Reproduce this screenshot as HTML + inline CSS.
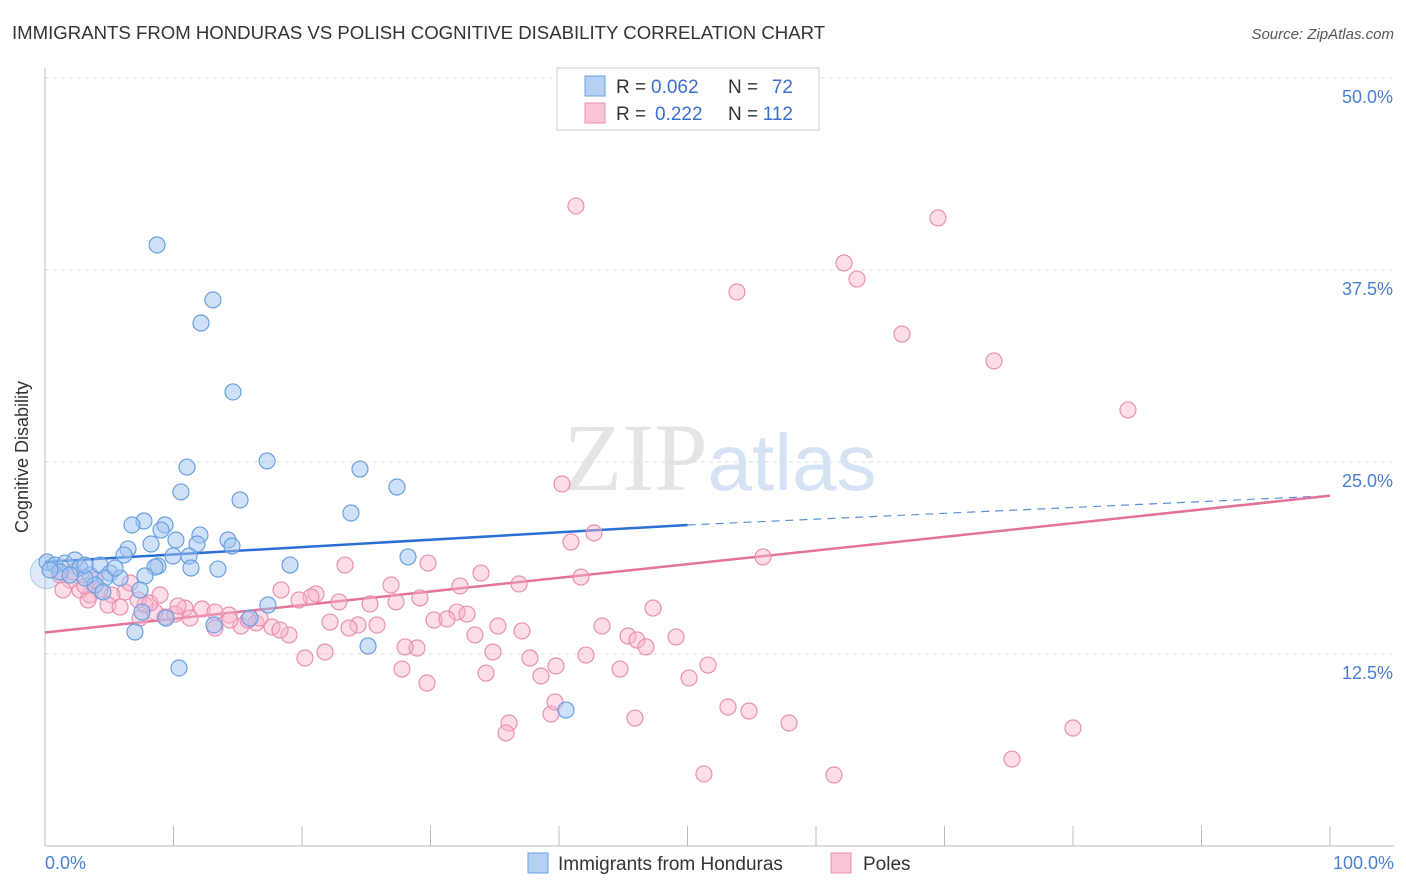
<!DOCTYPE html>
<html><head><meta charset="utf-8"><style>
body{margin:0;background:#fff;font-family:"Liberation Sans",sans-serif;}
svg{display:block}
</style></head><body>
<svg width="1406" height="892">
<text x="12" y="39" font-size="18.6" fill="#333">IMMIGRANTS FROM HONDURAS VS POLISH COGNITIVE DISABILITY CORRELATION CHART</text>
<text x="1394" y="39" font-size="15" fill="#555" font-style="italic" text-anchor="end">Source: ZipAtlas.com</text>
<text x="720" y="490" font-size="96" fill="#e4e4e4" text-anchor="middle" font-family="Liberation Serif,serif">ZIP<tspan fill="#d4e2f4" font-family="Liberation Sans,sans-serif" font-size="80">atlas</tspan></text>
<g id="grid"></g>
<line x1="45" y1="68" x2="45" y2="846" stroke="#bbb"/>
<line x1="45" y1="846" x2="1394" y2="846" stroke="#bbb"/>
<text x="28" y="457" font-size="18" fill="#333" text-anchor="middle" transform="rotate(-90 28 457)">Cognitive Disability</text>
<text x="45" y="869" font-size="18" fill="#4a7fd4">0.0%</text>
<text x="1394" y="869" font-size="18" fill="#4a7fd4" text-anchor="end">100.0%</text>
<g id="lines"></g>
<g id="pts"></g>
<g>
<rect x="557" y="68" width="262" height="62" fill="#fff" stroke="#ccc"/>
<rect x="585" y="76" width="20" height="20" fill="#b5d0f3" stroke="#6a9fe0"/>
<rect x="585" y="103" width="20" height="20" fill="#f9c6d7" stroke="#e890b0"/>
<text x="616" y="93" font-size="19" fill="#333">R =</text>
<text x="651" y="93" font-size="19" fill="#3a6fd0">0.062</text>
<text x="728" y="93" font-size="19" fill="#333">N =</text>
<text x="793" y="93" font-size="19" fill="#3a6fd0" text-anchor="end">72</text>
<text x="616" y="120" font-size="19" fill="#333">R =</text>
<text x="655" y="120" font-size="19" fill="#3a6fd0">0.222</text>
<text x="728" y="120" font-size="19" fill="#333">N =</text>
<text x="793" y="120" font-size="19" fill="#3a6fd0" text-anchor="end">112</text>
</g>
<g>
<rect x="528" y="853" width="20" height="20" fill="#b5d0f3" stroke="#6a9fe0"/>
<text x="558" y="870" font-size="19" fill="#333">Immigrants from Honduras</text>
<rect x="831" y="853" width="20" height="20" fill="#f9c6d7" stroke="#e890b0"/>
<text x="863" y="870" font-size="19" fill="#333">Poles</text>
</g>
</svg>
<script>
const yTicks=[12.5,25,37.5,50];
const xTicks=[0,10,20,30,40,50,60,70,80,90,100];
const bluePx=[[157,245],[213,300],[201,323],[233,392],[267,461],[187,467],[360,469],[181,492],[397,487],[240,500],[351,513],[144,521],[132,525],[165,525],[161,530],[200,535],[228,540],[176,540],[197,544],[151,544],[232,546],[128,549],[124,555],[408,557],[290,565],[173,556],[189,556],[158,566],[155,567],[218,569],[191,568],[145,576],[47,562],[55,565],[65,563],[75,560],[80,568],[90,575],[100,565],[110,573],[120,578],[105,578],[95,585],[85,578],[60,572],[70,575],[140,590],[103,592],[268,605],[142,612],[166,618],[214,625],[135,632],[250,618],[368,646],[179,668],[566,710],[115,568],[50,570],[85,565]];
const pinkPx=[[576,206],[938,218],[844,263],[857,279],[737,292],[902,334],[994,361],[1128,410],[562,484],[594,533],[571,542],[763,557],[581,577],[428,563],[345,565],[481,573],[391,585],[519,584],[460,586],[281,590],[316,594],[311,597],[420,598],[370,604],[339,602],[396,602],[299,600],[457,612],[467,614],[185,608],[202,609],[215,612],[229,615],[653,608],[434,620],[447,619],[330,622],[358,625],[377,625],[349,628],[602,626],[498,626],[522,631],[475,635],[628,636],[637,640],[676,637],[646,647],[289,635],[272,627],[256,623],[241,626],[260,618],[248,620],[190,618],[165,617],[155,612],[145,605],[138,600],[125,592],[112,595],[100,590],[90,595],[80,590],[70,580],[60,575],[108,605],[88,600],[325,652],[305,658],[417,648],[493,652],[530,658],[586,655],[556,666],[402,669],[486,673],[541,676],[620,669],[708,665],[689,678],[427,683],[509,723],[551,714],[506,733],[635,718],[728,707],[749,711],[789,723],[1073,728],[704,774],[834,775],[1012,759],[130,583],[150,603],[175,614],[230,620],[215,628],[405,647],[178,606],[120,607],[95,580],[73,572],[63,590],[85,586],[140,618],[160,595],[280,630],[555,702]];
const blueX=bluePx.map(p=>+((p[0]-45)/12.85).toFixed(2));
const blueY=bluePx.map(p=>+((846-p[1])/15.36).toFixed(2));
const pinkX=pinkPx.map(p=>+((p[0]-45)/12.85).toFixed(2));
const pinkY=pinkPx.map(p=>+((846-p[1])/15.36).toFixed(2));
const blueTrend=[18.5,20.9,22.8];
const pinkTrend=[13.9,22.8];
const sx=v=>45+v*12.85, sy=v=>846-v*15.36;
const NS="http://www.w3.org/2000/svg";
function mk(tag,a,parent){const e=document.createElementNS(NS,tag);for(const k in a)e.setAttribute(k,a[k]);parent.appendChild(e);return e;}
const grid=document.getElementById('grid');
yTicks.forEach(t=>{
 const l=mk('line',{x1:45,x2:1394,y1:sy(t),y2:sy(t),stroke:'#ddd','stroke-dasharray':'4 4'},grid);
 
 
 const tx=mk('text',{x:1393,y:sy(t)+25,'font-size':18,fill:'#4a7fd4','text-anchor':'end'},grid);
 tx.textContent=t.toFixed(1)+'%';
 
 
});
xTicks.forEach(t=>{
 const l=mk('line',{x1:sx(t),x2:sx(t),y1:826,y2:846,stroke:'#bbb'},grid);
 
 
});
const pts=document.getElementById('pts');
const big=mk('circle',{cx:sx(0.1),cy:sy(17.8),r:16,fill:'rgba(160,196,240,0.35)',stroke:'rgba(106,159,224,0.5)'},pts);


pinkX.forEach((x,i)=>{
 const c=mk('circle',{cx:sx(x),cy:sy(pinkY[i]),r:8,fill:'rgba(248,180,205,0.45)',stroke:'#e890b0','stroke-width':1.2},pts);
 
 
});
blueX.forEach((x,i)=>{
 const c=mk('circle',{cx:sx(x),cy:sy(blueY[i]),r:8,fill:'rgba(160,196,240,0.5)',stroke:'#6a9fe0','stroke-width':1.2},pts);
 
 
});
const lines=document.getElementById('lines');
let l=mk('line',{x1:sx(0),y1:sy(blueTrend[0]),x2:sx(50),y2:sy(blueTrend[1]),stroke:'#2a6fd6','stroke-width':2.5},lines);


l=mk('line',{x1:sx(50),y1:sy(blueTrend[1]),x2:sx(100),y2:sy(blueTrend[2]),stroke:'#5a8fdc','stroke-width':1.2,'stroke-dasharray':'8 6'},lines);


l=mk('line',{x1:sx(0),y1:sy(pinkTrend[0]),x2:sx(100),y2:sy(pinkTrend[1]),stroke:'#e2719b','stroke-width':2.5},lines);


</script>
</body></html>
